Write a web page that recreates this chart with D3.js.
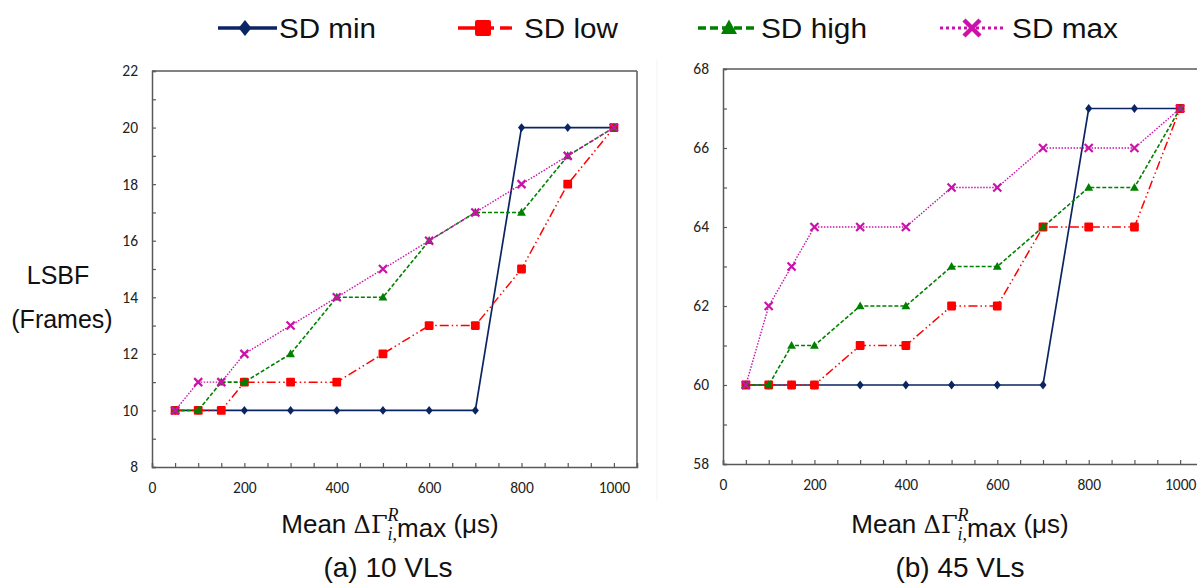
<!DOCTYPE html>
<html>
<head>
<meta charset="utf-8">
<script src="https://cdn.jsdelivr.net/npm/d3@7"></script>
<style>
  html, body { margin: 0; padding: 0; background: #fff; }
  svg { display: block; }
</style>
</head>
<body>
<svg id="chart" width="1197" height="583"></svg>
<script>
// ---------------- data ----------------
const xValues = [50, 100, 150, 200, 300, 400, 500, 600, 700, 800, 900, 1000];

const seriesNames = ["SD min", "SD low", "SD high", "SD max"];

// (a) 10 VLs
const a_sdMin  = [10, 10, 10, 10, 10, 10, 10, 10, 10, 20, 20, 20];
const a_sdLow  = [10, 10, 10, 11, 11, 11, 12, 13, 13, 15, 18, 20];
const a_sdHigh = [10, 10, 11, 11, 12, 14, 14, 16, 17, 17, 19, 20];
const a_sdMax  = [10, 11, 11, 12, 13, 14, 15, 16, 17, 18, 19, 20];

// (b) 45 VLs
const b_sdMin  = [60, 60, 60, 60, 60, 60, 60, 60, 60, 67, 67, 67];
const b_sdLow  = [60, 60, 60, 60, 61, 61, 62, 62, 64, 64, 64, 67];
const b_sdHigh = [60, 60, 61, 61, 62, 62, 63, 63, 64, 65, 65, 67];
const b_sdMax  = [60, 62, 63, 64, 64, 64, 65, 65, 66, 66, 66, 67];

const xTickLabels = [0, 200, 400, 600, 800, 1000];
const aYTickLabels = [8, 10, 12, 14, 16, 18, 20, 22];
const bYTickLabels = [58, 60, 62, 64, 66, 68];

// ---------------- styles ----------------
const styles = [
  { color: "#0b2463", dash: null,               width: 1.7, marker: "diamond" },
  { color: "#ff0000", dash: "9,3,1.5,3,1.5,3",  width: 1.5, marker: "square" },
  { color: "#008000", dash: "4,2",              width: 1.6, marker: "triangle" },
  { color: "#cc11aa", dash: "1.5,1.5",          width: 1.4, marker: "cross" }
];

const svg = d3.select("#chart");
const tickFont = "Carlito, Lato, 'Open Sans', sans-serif";
const textFont = "'Liberation Sans', Arial, sans-serif";

function drawMarker(g, type, cx, cy, color, s) {
  if (type === "diamond") {
    g.append("path").attr("d", `M${cx},${cy - s}L${cx + s * 0.8},${cy}L${cx},${cy + s}L${cx - s * 0.8},${cy}Z`)
      .attr("fill", color);
  } else if (type === "square") {
    g.append("rect").attr("x", cx - s).attr("y", cy - s).attr("width", 2 * s).attr("height", 2 * s)
      .attr("rx", s * 0.25).attr("fill", color);
  } else if (type === "triangle") {
    g.append("path").attr("d", `M${cx},${cy - s * 1.05}L${cx + s},${cy + s * 0.75}L${cx - s},${cy + s * 0.75}Z`)
      .attr("fill", color);
  } else if (type === "cross") {
    g.append("path").attr("d", `M${cx - s},${cy - s}L${cx + s},${cy + s}M${cx - s},${cy + s}L${cx + s},${cy - s}`)
      .attr("stroke", color).attr("stroke-width", s * 0.55).attr("fill", "none");
  }
}

function panel(opts) {
  const { left, top, bottom, right, yDomain, yTickLabels, series, rightBorder } = opts;
  const x = d3.scaleLinear().domain([0, 1050]).range([left, right]);
  const y = d3.scaleLinear().domain(yDomain).range([bottom, top]);
  const g = svg.append("g");

  // frame
  g.append("line").attr("x1", left).attr("x2", right).attr("y1", top).attr("y2", top)
    .attr("stroke", "#595959").attr("stroke-width", 1.5);
  if (rightBorder) {
    g.append("line").attr("x1", right).attr("x2", right).attr("y1", top).attr("y2", bottom)
      .attr("stroke", "#595959").attr("stroke-width", 1.5);
  }

  // y axis
  const yTicks = d3.range(yDomain[0], yDomain[1] + 1, 1);
  const yAxis = d3.axisLeft(y).tickValues(yTicks).tickSize(-4).tickPadding(14)
    .tickFormat(d => yTickLabels.includes(d) ? String(d) : "");
  const ya = g.append("g").attr("transform", `translate(${left},0)`).call(yAxis);
  ya.attr("font-size", null).attr("font-family", null);
  ya.select(".domain").attr("stroke", "#595959").attr("stroke-width", 1.5);
  ya.selectAll(".tick line").attr("stroke", "#595959").attr("stroke-width", 1.2);
  ya.selectAll("text").style("font-family", tickFont).style("font-size", "15.5px").attr("fill", "#222");

  // x axis
  const xTicks = d3.range(0, 1051, 50);
  const xAxis = d3.axisBottom(x).tickValues(xTicks).tickSize(-4).tickPadding(15)
    .tickFormat(d => xTickLabels.includes(d) ? String(d) : "");
  const xa = g.append("g").attr("transform", `translate(0,${bottom})`).call(xAxis);
  xa.attr("font-size", null).attr("font-family", null);
  xa.select(".domain").attr("stroke", "#595959").attr("stroke-width", 1.5);
  xa.selectAll(".tick line").attr("stroke", "#595959").attr("stroke-width", 1.2);
  xa.selectAll("text").style("font-family", tickFont).style("font-size", "15.5px").attr("fill", "#222");

  // series
  series.forEach((vals, i) => {
    const st = styles[i];
    const line = d3.line().x((d, j) => x(xValues[j])).y(d => y(d));
    g.append("path").datum(vals).attr("d", line).attr("fill", "none")
      .attr("stroke", st.color).attr("stroke-width", st.width)
      .attr("stroke-dasharray", st.dash);
    const mg = g.append("g");
    vals.forEach((v, j) => drawMarker(mg, st.marker, x(xValues[j]), y(v), st.color, i === 3 ? 4 : 4.4));
  });

  // x label
  const lab = g.append("text").attr("x", opts.labX).attr("y", 533).attr("text-anchor", "middle")
    .attr("font-family", textFont).attr("font-size", 26).attr("fill", "#111");
  lab.append("tspan").text("Mean  ");
  lab.append("tspan").attr("font-family", "'DejaVu Serif', 'Liberation Serif', serif").attr("font-size", 24).text("ΔΓ");
  lab.append("tspan").attr("font-family", "'Liberation Serif', serif").attr("font-style", "italic")
    .attr("font-size", 18).attr("dy", -12).text("R");
  lab.append("tspan").attr("font-family", "'Liberation Serif', serif").attr("font-style", "italic")
    .attr("font-size", 18).attr("dx", -11).attr("dy", 19).text("i,");
  lab.append("tspan").attr("dy", -3).text("max");
  lab.append("tspan").attr("dy", -4).text("  (μs)");

  g.append("text").attr("x", opts.subX).attr("y", 577).attr("text-anchor", "middle")
    .attr("font-family", textFont).attr("font-size", 28).attr("fill", "#111").text(opts.sub);
}

panel({
  left: 152, right: 637, top: 71, bottom: 467,
  yDomain: [8, 22], yTickLabels: aYTickLabels,
  series: [a_sdMin, a_sdLow, a_sdHigh, a_sdMax], rightBorder: true,
  sub: "(a) 10 VLs", subX: 388, labX: 390
});
panel({
  left: 723, right: 1203, top: 69, bottom: 464,
  yDomain: [58, 68], yTickLabels: bYTickLabels,
  series: [b_sdMin, b_sdLow, b_sdHigh, b_sdMax], rightBorder: true,
  sub: "(b) 45 VLs", subX: 960, labX: 960
});

// faint separator
svg.append("line").attr("x1", 657).attr("x2", 657).attr("y1", 60).attr("y2", 500)
  .attr("stroke", "#f2f2f2").attr("stroke-width", 1);

// y title
svg.append("text").attr("x", 58).attr("y", 284).attr("text-anchor", "middle")
  .attr("font-family", textFont).attr("font-size", 25).attr("fill", "#111").text("LSBF");
svg.append("text").attr("x", 62).attr("y", 328).attr("text-anchor", "middle")
  .attr("font-family", textFont).attr("font-size", 25).attr("fill", "#111").text("(Frames)");

// legend
const legendItems = [
  { x1: 218, x2: 277, mx: 245, tx: 279, w: 97 },
  { x1: 458, x2: 512, mx: 483, tx: 524, w: 94 },
  { x1: 698, x2: 757, mx: 729, tx: 761, w: 106 },
  { x1: 940, x2: 1004, mx: 972, tx: 1012, w: 106 }
];
const lg = svg.append("g");
seriesNames.forEach((name, i) => {
  const it = legendItems[i], st = styles[i], ly = 28;
  lg.append("line").attr("x1", it.x1).attr("x2", it.x2).attr("y1", ly).attr("y2", ly)
    .attr("stroke", st.color).attr("stroke-width", st.width * 2.2)
    .attr("stroke-dasharray", st.dash ? st.dash.split(",").map(v => v * 2).join(",") : null);
  drawMarker(lg, st.marker, it.mx, ly, st.color, 8);
  lg.append("text").attr("x", it.tx).attr("y", ly + 10).attr("font-family", textFont)
    .attr("font-size", 27).attr("fill", "#111")
    .attr("textLength", it.w).attr("lengthAdjust", "spacingAndGlyphs").text(name);
});
</script>
</body>
</html>
